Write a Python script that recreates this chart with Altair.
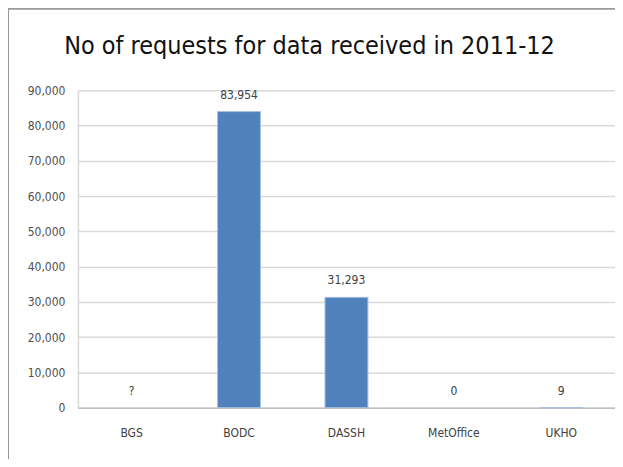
import altair as alt
import pandas as pd

categories = ["BGS", "BODC", "DASSH", "MetOffice", "UKHO"]
values = [None, 83954, 31293, 0, 9]
labels = ["?", "83,954", "31,293", "0", "9"]
y_ticks = [0, 10000, 20000, 30000, 40000, 50000, 60000, 70000, 80000, 90000]
title_text = "No of requests for data received in 2011-12"

df = pd.DataFrame({
    "cat": categories,
    "val": [float("nan") if v is None else v for v in values],
    "lab": labels,
    "ypos": [0 if v is None else v for v in values],
})

FONT = "DejaVu Sans Condensed, Liberation Sans Narrow, sans-serif"
W, H = 538, 318

x_axis = alt.Axis(labelAngle=0, ticks=False, labelPadding=20, labelFontSize=12,
                  labelColor="#404040", labelFont=FONT,
                  domainColor="#bfbfbf", domainWidth=1.5)
y_axis = alt.Axis(values=y_ticks, format=",d", ticks=False, labelPadding=13,
                  labelFontSize=12, labelColor="#505050", labelFont=FONT,
                  grid=True, gridColor="#d9d9d9", gridWidth=1.5,
                  domainColor="#d9d9d9", domainWidth=1.5)
x_scale = alt.Scale(paddingInner=0, paddingOuter=0)
y_scale = alt.Scale(domain=[0, 90000], nice=False)

bars = alt.Chart(df).mark_bar(width=43, fill="#4F81BD", strokeWidth=1).encode(
    x=alt.X("cat:N", sort=categories, title=None, scale=x_scale, axis=x_axis),
    y=alt.Y("val:Q", scale=y_scale, title=None, axis=y_axis),
    stroke=alt.condition("datum.val > 0", alt.value("#A9C1E0"), alt.value(None)),
)

text = alt.Chart(df).mark_text(baseline="alphabetic", dy=-13, fontSize=12,
                               color="#404040", font=FONT).encode(
    x=alt.X("cat:N", sort=categories, title=None, scale=x_scale, axis=x_axis),
    y=alt.Y("ypos:Q", scale=y_scale, title=None, axis=y_axis),
    text="lab:N",
)

title = alt.Chart(pd.DataFrame({"t": [title_text]})).mark_text(
    fontSize=25, font=FONT, color="#111111", baseline="middle", align="center").encode(
    x=alt.value(232), y=alt.value(-44), text="t:N")

border_left = alt.Chart(df).mark_rule(color="#9a9a9a", strokeWidth=2).encode(
    x=alt.value(-70), y=alt.value(-82), y2=alt.value(H + 60))
border_top = alt.Chart(df).mark_rule(color="#9a9a9a", strokeWidth=2).encode(
    x=alt.value(-70), x2=alt.value(W + 7), y=alt.value(-82))

chart = alt.layer(bars, text, title, border_left, border_top).properties(
    width=W, height=H,
    autosize=alt.AutoSizeParams(type="none"),
    padding={"left": 70, "top": 82, "right": 0, "bottom": 51},
).configure_view(stroke=None)

chart.save("out.html", embed_options={"renderer": "svg", "actions": False})
